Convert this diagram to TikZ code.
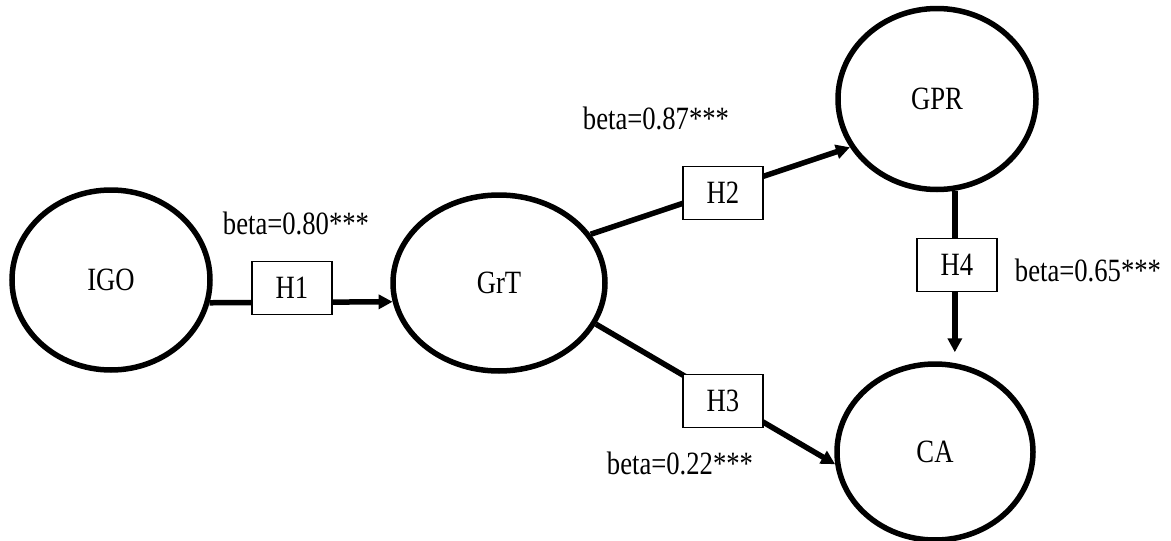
\documentclass[tikz,border=0pt]{standalone}
\usepackage{fontspec}
\setmainfont[FakeStretch=0.82]{Liberation Serif}
\usetikzlibrary{shapes.geometric,arrows.meta}
\begin{document}
\begin{tikzpicture}[x=1pt,y=-1pt,
  every node/.style={font=\fontsize{32.5}{38}\selectfont},
  construct/.style={ellipse,draw=black,line width=5.5pt,inner sep=0pt,fill=white},
  hypbox/.style={rectangle,draw=black,line width=1.1pt,fill=white,
    minimum width=80pt,minimum height=53pt,inner sep=0pt},
  path/.style={line width=5.5pt,-{Triangle[length=14pt,width=14pt]}},
  coef/.style={inner sep=0pt}]
\useasboundingbox (0,0) rectangle (1171,541);

% latent constructs
\node[construct,minimum width=198pt,minimum height=180pt] (IGO) at (111,280) {IGO};
\node[construct,minimum width=212pt,minimum height=176pt] (GrT) at (499,283) {GrT};
\node[construct,minimum width=198pt,minimum height=181pt] (GPR) at (937,99) {GPR};
\node[construct,minimum width=196pt,minimum height=176pt] (CA)  at (935,452) {CA};

% structural paths
\draw[path] (IGO.-13) -- (GrT.190.5);
\draw[path] (GrT.28) -- (GPR.209);
\draw[path] (GrT.-23.5) -- (CA.187.5);
\draw[path,shorten >=9pt] (GPR.281) -- (GPR.281 |- CA.north);

% hypothesis labels
\node[hypbox] (H1) at (292,288) {H1};
\node[hypbox] (H2) at (723,193) {H2};
\node[hypbox] (H3) at (723,401) {H3};
\node[hypbox] (H4) at (957,265) {H4};

% path coefficients
\node[coef] (b1) at (296,223) {beta=0.80***};
\node[coef] (b2) at (656,118) {beta=0.87***};
\node[coef] (b3) at (680,463) {beta=0.22***};
\node[coef] (b4) at (1088,270) {beta=0.65***};
\end{tikzpicture}
\end{document}
